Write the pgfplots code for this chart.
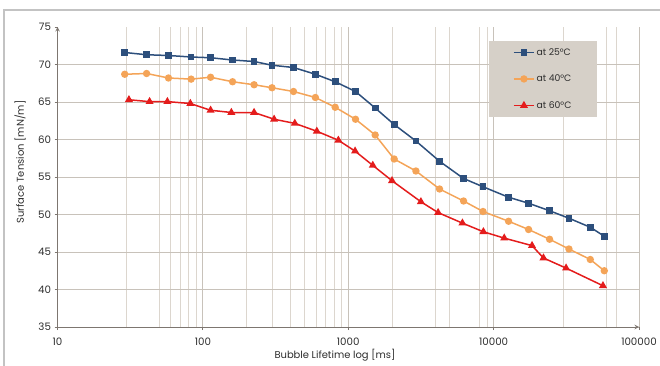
\documentclass[border=0pt]{standalone}
\usepackage{fontspec}
\setmainfont{Poppins}
\usepackage{pgfplots}
\pgfplotsset{compat=1.18}
\definecolor{cA}{RGB}{45,79,124}
\definecolor{cB}{RGB}{244,164,88}
\definecolor{cC}{RGB}{228,28,28}
\definecolor{legbg}{RGB}{214,208,200}
\definecolor{gridc}{RGB}{220,214,206}
\definecolor{gridm}{RGB}{200,194,186}
\definecolor{axc}{RGB}{125,118,112}
\definecolor{bordc}{RGB}{195,195,195}
\definecolor{txt}{RGB}{45,45,45}
\begin{document}
\begin{tikzpicture}[x=1bp,y=1bp]
\useasboundingbox (0,0) rectangle (660,365);
\draw[color=bordc, line width=1.2bp] (4,-5) -- (4,355) -- (670,355);
\begin{axis}[
  at={(57.5bp,38bp)}, anchor=south west,
  scale only axis, width=581.5bp, height=300bp,
  xmode=log, log basis x=10,
  xmin=10, xmax=100000, ymin=35, ymax=75,
  axis lines=left,
  axis line style={draw=axc, line width=1bp},
  xtick={10,100,1000,10000,100000},
  xticklabels={10,100,1000,10000,100000},
  minor xtick={30,50,60,70,80,90,200,300,400,500,600,700,800,900,2000,4000,5000,8000,9000,30000,60000,70000},
  ytick={35,40,45,50,55,60,65,70},
  extra y ticks={75}, extra tick style={grid=none},
  xmajorgrids, xminorgrids, ymajorgrids,
  major grid style={draw=gridm, line width=0.9bp},
  minor grid style={draw=gridc, line width=0.9bp},
  tick align=outside, major tick length=3bp, minor tick length=0pt,
  tick style={draw=axc, line width=0.8bp},
  /pgf/number format/assume math mode=true,
  ticklabel style={font=\fontsize{10.3}{12}\selectfont, text=txt},
  xticklabel style={yshift=-4bp},
  label style={font=\fontsize{10}{12}\selectfont, text=txt},
  xlabel={Bubble Lifetime log [ms]},
  ylabel={Surface Tension [mN/m]},
  xlabel style={at={(axis description cs:0.477,-0.0933)}, anchor=center},
  ylabel style={at={(axis description cs:-0.0645,0.55)}, anchor=center},
  legend style={at={(0.742,0.955)}, anchor=north west, fill=legbg, draw=none,
    font=\fontsize{9.3}{11}\selectfont, text=txt,
    inner xsep=24bp, inner ysep=5.5bp, row sep=14.3bp, legend cell align=left},
  legend image code/.code={\draw[#1] (0bp,0bp) -- (20bp,0bp); \draw[#1, mark repeat=2, mark phase=2] plot coordinates {(0bp,0bp) (10bp,0bp) (20bp,0bp)};},
  clip=false,
]
\addplot[cA, line width=1.5bp, mark=square*, mark size=2.6bp] coordinates {
(29,71.6) (41,71.3) (58,71.2) (83,71.0) (113,70.9) (160,70.6) (225,70.4) (299,69.9)
(420,69.6) (594,68.7) (813,67.7) (1122,66.4) (1532,64.2) (2069,62.0) (2920,59.8)
(4245,57.1) (6210,54.8) (8450,53.7) (12670,52.3) (17390,51.5) (24260,50.5)
(32970,49.5) (46220,48.3) (57700,47.1)};
\addlegendentry{at 25°C}
\addplot[cB, line width=1.5bp, mark=*, mark size=2.9bp] coordinates {
(29,68.7) (41,68.8) (58,68.2) (83,68.05) (113,68.3) (160,67.7) (225,67.3) (299,66.9)
(420,66.4) (594,65.6) (813,64.3) (1122,62.7) (1532,60.6) (2069,57.4) (2920,55.8)
(4245,53.4) (6210,51.8) (8450,50.4) (12670,49.1) (17390,48.0) (24260,46.7)
(32970,45.4) (46220,44.0) (57700,42.5)};
\addlegendentry{at 40°C}
\addplot[cC, line width=1.5bp, mark=triangle*, mark size=3.2bp] coordinates {
(31,65.3) (43,65.05) (57,65.05) (82,64.8) (113,63.9) (157,63.6) (225,63.6) (309,62.7)
(429,62.15) (608,61.1) (855,59.9) (1114,58.45) (1475,56.55) (2000,54.5) (3160,51.7)
(4150,50.25) (6100,48.85) (8500,47.7) (11830,46.85) (18370,45.85) (22020,44.2)
(31500,42.85) (56500,40.5)};
\addlegendentry{at 60°C}
\end{axis}
\end{tikzpicture}
\end{document}
